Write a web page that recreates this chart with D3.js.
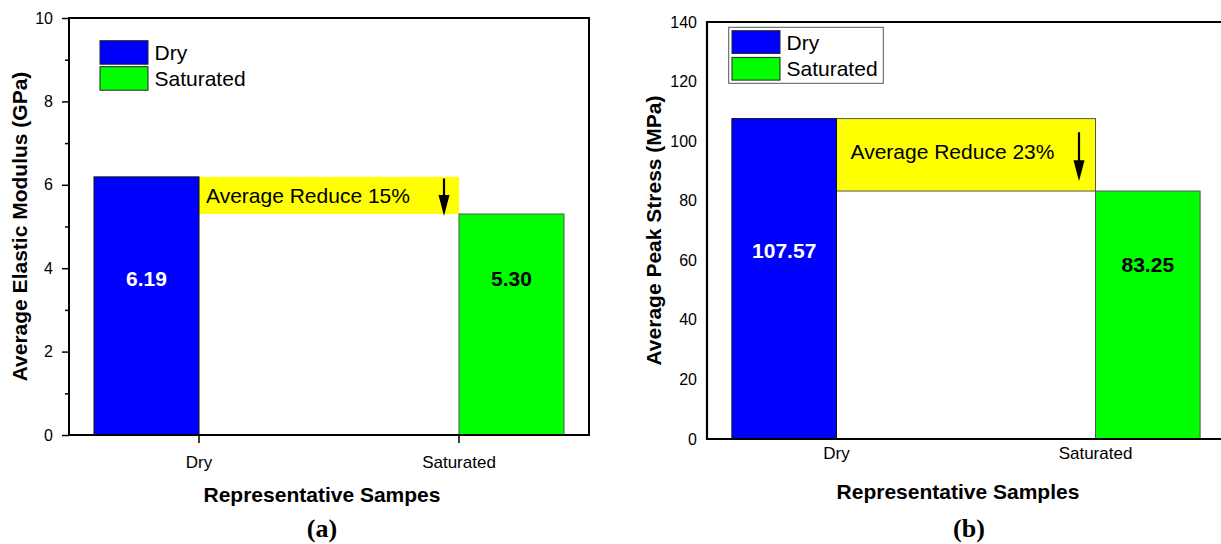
<!DOCTYPE html>
<html>
<head>
<meta charset="utf-8">
<script src="https://cdn.jsdelivr.net/npm/d3@7"></script>
<style>
  html, body { margin: 0; padding: 0; background: #fff; }
  svg { display: block; }
  text { font-family: "Liberation Sans", Arial, Helvetica, sans-serif; }
</style>
</head>
<body>
<svg id="chart" width="1221" height="544"></svg>
<script>
// ---- data ----
const categories = ["Dry", "Saturated"];
const seriesNames = ["Dry", "Saturated"];
const seriesColors = ["#0000ff", "#00ff00"];
const seriesStrokes = ["#111111", "#555555"];

const modulusValues = [6.19, 5.30];          // GPa
const modulusTicks = [0, 2, 4, 6, 8, 10];
const modulusMinorTicks = [1, 3, 5, 7, 9];

const stressValues = [107.57, 83.25];        // MPa
const stressTicks = [0, 20, 40, 60, 80, 100, 120, 140];

const reductionTexts = ["Average Reduce 15%", "Average Reduce 23%"];
const yTitles = ["Average Elastic Modulus (GPa)", "Average Peak Stress  (MPa)"];
const xTitles = ["Representative Sampes", "Representative Samples"];
const panelTags = ["(a)", "(b)"];

// ---- panel setup ----
const panels = [
  {
    values: modulusValues, yMax: 10, ticks: modulusTicks, minorTicks: modulusMinorTicks,
    yTitle: yTitles[0], xTitle: xTitles[0], tag: panelTags[0], note: reductionTexts[0],
    left: 69, right: 589, top: 18, bottom: 435,
    fullFrame: true, xTicks: 8, xPad: 12.5, yTickSize: 7, yPad: 9,
    labelLevels: [3.75, 3.75],
    arrowFrom: 6.15, arrowTo: 5.25, arrowInset: 15,
    noteDx: 7, noteDy: 8, noteBorder: false,
    legend: { x: 100, y: 40.7, h: 23.5, gap: 2.5, w: 48, box: false },
    yTitleX: 27, xTitleX: 322, xTitleY: 502, tagX: 322, tagY: 537
  },
  {
    values: stressValues, yMax: 140, ticks: stressTicks, minorTicks: [],
    yTitle: yTitles[1], xTitle: xTitles[1], tag: panelTags[1], note: reductionTexts[1],
    left: 707, right: 1225, top: 22, bottom: 439,
    fullFrame: false, xTicks: 0, xPad: 8, yTickSize: 0, yPad: 10,
    labelLevels: [63.4, 58.7],
    arrowFrom: 103, arrowTo: 86.5, arrowInset: 16.5,
    noteDx: 14, noteDy: 4.5, noteBorder: true,
    legend: { x: 732, y: 30.7, h: 22.7, gap: 4, w: 48, box: true },
    yTitleX: 661, xTitleX: 958, xTitleY: 499, tagX: 969, tagY: 537
  }
];

const svg = d3.select("#chart");

panels.forEach(p => {
  const g = svg.append("g");

  const x0 = d3.scaleBand().domain(categories).range([p.left, p.right]).padding(0);
  const x1 = d3.scaleBand().domain(seriesNames).range([0, x0.bandwidth()])
    .paddingInner(0).paddingOuter(0.238);
  const y = d3.scaleLinear().domain([0, p.yMax]).range([p.bottom, p.top]);

  // grouped bars: each category carries a value only for its own series
  const barData = [];
  categories.forEach((c, i) => {
    seriesNames.forEach((s, j) => {
      const v = i === j ? p.values[i] : 0;
      if (v > 0) barData.push({ cat: c, series: s, j, value: v, level: p.labelLevels[i] });
    });
  });

  // reduction band between the two bar tops
  const noteX0 = x0(categories[0]) + x1(seriesNames[0]) + x1.bandwidth();
  const noteX1 = x0(categories[1]) + x1(seriesNames[1]);
  const noteY0 = y(p.values[0]);
  const noteY1 = y(p.values[1]);
  g.append("rect")
    .attr("x", noteX0).attr("y", noteY0)
    .attr("width", noteX1 - noteX0).attr("height", noteY1 - noteY0)
    .attr("fill", "#ffff00")
    .attr("stroke", p.noteBorder ? "#555" : "none")
    .attr("stroke-width", 1);

  g.append("text")
    .attr("x", noteX0 + p.noteDx)
    .attr("y", (noteY0 + noteY1) / 2 + p.noteDy)
    .attr("font-size", 21)
    .attr("fill", "#000")
    .text(p.note);

  // down arrow
  const ax = noteX1 - p.arrowInset;
  const ay0 = y(p.arrowFrom), ay1 = y(p.arrowTo);
  const headLen = 21, headHalf = 5.5;
  g.append("line")
    .attr("x1", ax).attr("x2", ax)
    .attr("y1", ay0).attr("y2", ay1 - headLen + 2)
    .attr("stroke", "#000").attr("stroke-width", 2.2);
  g.append("path")
    .attr("d", `M${ax - headHalf},${ay1 - headLen} L${ax + headHalf},${ay1 - headLen} L${ax},${ay1} Z`)
    .attr("fill", "#000");

  // bars
  g.selectAll("rect.bar").data(barData).join("rect")
    .attr("class", "bar")
    .attr("x", d => x0(d.cat) + x1(d.series))
    .attr("y", d => y(d.value))
    .attr("width", x1.bandwidth())
    .attr("height", d => y(0) - y(d.value))
    .attr("fill", d => seriesColors[d.j])
    .attr("stroke", d => seriesStrokes[d.j])
    .attr("stroke-width", 1);

  // value labels
  g.selectAll("text.val").data(barData).join("text")
    .attr("class", "val")
    .attr("x", d => x0(d.cat) + x1(d.series) + x1.bandwidth() / 2)
    .attr("y", d => y(d.level))
    .attr("dy", "0.35em")
    .attr("text-anchor", "middle")
    .attr("font-size", 21)
    .attr("font-weight", "bold")
    .attr("fill", d => d.j === 0 ? "#fff" : "#000")
    .text(d => p.values[categories.indexOf(d.cat)].toFixed(2));

  // y axis
  const yAxis = d3.axisLeft(y).tickValues(p.ticks).tickSize(p.yTickSize).tickPadding(p.yPad)
    .tickFormat(d3.format("d"));
  const gy = g.append("g").attr("transform", `translate(${p.left},0)`).call(yAxis);
  gy.select(".domain").remove();
  gy.selectAll("line").attr("stroke", "#000").attr("stroke-width", 1.5);
  gy.selectAll("text").attr("font-size", 16).attr("fill", "#000")
    .style("font-family", '"Liberation Sans", Arial, sans-serif');

  if (p.minorTicks.length) {
    const gm = g.append("g").attr("transform", `translate(${p.left},0)`)
      .call(d3.axisLeft(y).tickValues(p.minorTicks).tickSize(4).tickFormat(""));
    gm.select(".domain").remove();
    gm.selectAll("line").attr("stroke", "#000").attr("stroke-width", 1.5);
  }

  // x axis
  const xAxis = d3.axisBottom(x0).tickSize(p.xTicks).tickPadding(p.xPad);
  const gx = g.append("g").attr("transform", `translate(0,${p.bottom})`).call(xAxis);
  gx.select(".domain").remove();
  gx.selectAll("line").attr("stroke", "#000").attr("stroke-width", 1.5);
  gx.selectAll("text").attr("font-size", 17).attr("fill", "#000")
    .style("font-family", '"Liberation Sans", Arial, sans-serif');

  // frame
  if (p.fullFrame) {
    g.append("rect")
      .attr("x", p.left).attr("y", p.top)
      .attr("width", p.right - p.left).attr("height", p.bottom - p.top)
      .attr("fill", "none").attr("stroke", "#000").attr("stroke-width", 2);
  } else {
    g.append("path")
      .attr("d", `M${p.right},${p.top} L${p.left},${p.top} L${p.left},${p.bottom} L${p.right},${p.bottom}`)
      .attr("fill", "none").attr("stroke", "#000").attr("stroke-width", 2.2);
  }

  // legend
  const L = p.legend;
  if (L.box) {
    g.append("rect")
      .attr("x", L.x - 3.3).attr("y", L.y - 3.4)
      .attr("width", 154.6).attr("height", 56)
      .attr("fill", "#fff").attr("stroke", "#555").attr("stroke-width", 1);
  }
  seriesNames.forEach((s, j) => {
    const ly = L.y + j * (L.h + L.gap);
    g.append("rect")
      .attr("x", L.x).attr("y", ly).attr("width", L.w).attr("height", L.h)
      .attr("fill", seriesColors[j]).attr("stroke", "#222").attr("stroke-width", 1);
    g.append("text")
      .attr("x", L.x + L.w + 6.5).attr("y", ly + L.h / 2)
      .attr("dy", "0.36em")
      .attr("font-size", 21).attr("fill", "#000")
      .text(s);
  });

  // axis titles
  g.append("text")
    .attr("transform", `translate(${p.yTitleX},${(p.top + p.bottom) / 2}) rotate(-90)`)
    .attr("text-anchor", "middle")
    .attr("font-size", 21).attr("font-weight", "bold")
    .text(p.yTitle);

  g.append("text")
    .attr("x", p.xTitleX).attr("y", p.xTitleY)
    .attr("text-anchor", "middle")
    .attr("font-size", 21).attr("font-weight", "bold")
    .text(p.xTitle);

  g.append("text")
    .attr("x", p.tagX).attr("y", p.tagY)
    .attr("text-anchor", "middle")
    .attr("font-size", 26).attr("font-weight", "bold")
    .style("font-family", '"Liberation Serif", "Times New Roman", serif')
    .text(p.tag);
});
</script>
</body>
</html>
